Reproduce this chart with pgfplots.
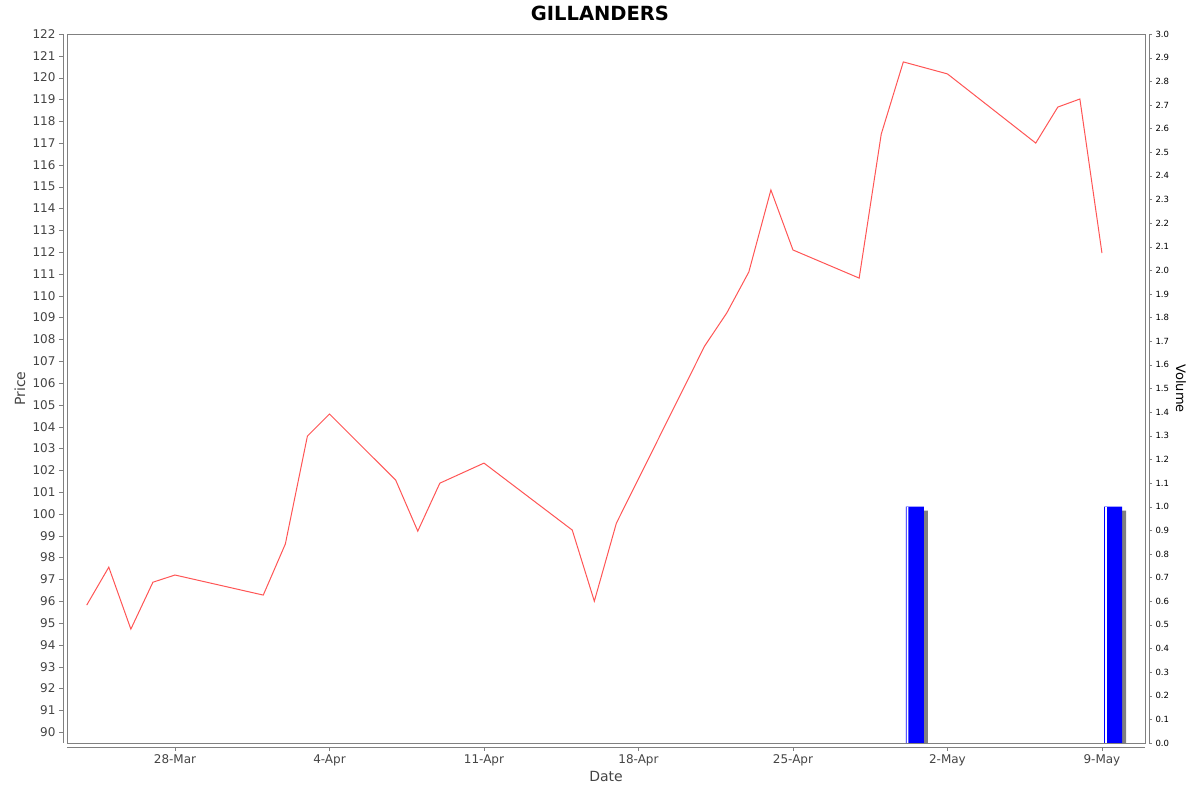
\documentclass[border=0pt]{standalone}
\usepackage{fontspec}
\setmainfont{DejaVu Sans}
\usepackage{pgfplots}
\pgfplotsset{compat=1.18}

\definecolor{pricered}{RGB}{255,85,85}
\definecolor{ticktext}{RGB}{68,68,68}
\definecolor{axisgray}{RGB}{128,128,128}

\begin{document}
\begin{tikzpicture}
\useasboundingbox (0,0) rectangle (1200pt,792pt);
% price axis (left)
\begin{axis}[
    at={(67pt,49pt)}, anchor=south west,
    scale only axis, width=1078pt, height=709pt,
    xmin=-4.893, xmax=43.95,
    ymin=89.5, ymax=122,
    axis x line*=bottom, axis y line*=left,
    axis x line shift=4pt, axis y line shift=4pt,
    axis line style={-, draw=axisgray},
    tick align=outside, major tick length=4pt,
    tick style={axisgray},
    xtick={0,7,14,21,28,35,42},
    xticklabels={28-Mar,4-Apr,11-Apr,18-Apr,25-Apr,2-May,9-May},
    ytick={90,91,...,122},
    tick label style={font=\fontsize{12}{14}\selectfont, text=ticktext},
    /pgf/number format/assume math mode=true,
    clip=false,
    title={GILLANDERS},
    title style={at={(rel axis cs:0.5,1)}, anchor=center, yshift=15pt, xshift=-6pt,
                 font=\fontsize{19.5}{21}\selectfont\bfseries},
    xlabel={Date}, ylabel={Price},
    every axis x label/.style={at={(rel axis cs:0.5,0)}, anchor=center, yshift=-33pt,
                 font=\fontsize{14}{16}\selectfont, text=ticktext},
    every axis y label/.style={at={(rel axis cs:0,0.5)}, anchor=center, xshift=-47pt, rotate=90,
                 font=\fontsize{14}{16}\selectfont, text=ticktext},
]
\draw[axisgray] (rel axis cs:0,0) rectangle (rel axis cs:1,1);
\addplot[pricered, line width=1pt] coordinates {
(-4,95.82) (-3,97.56) (-2,94.72) (-1,96.87) (0,97.20)
(4,96.28) (5,98.62) (6,103.57) (7,104.58)
(10,101.55) (11,99.21) (12,101.41) (14,102.33)
(18,99.26) (19,96.00) (20,99.58)
(24,107.70) (25,109.21) (26,111.09) (27,114.85) (28,112.10)
(31,110.81) (32,117.41) (33,120.72) (35,120.17)
(39,117.00) (40,118.65) (41,119.02) (42,111.96)
};
\end{axis}
% volume axis (right)
\begin{axis}[
    at={(67pt,49pt)}, anchor=south west,
    scale only axis, width=1078pt, height=709pt,
    xmin=-4.893, xmax=43.95,
    ymin=0, ymax=3,
    axis x line=none, axis y line*=right,
    axis y line shift=4pt,
    axis line style={-, draw=axisgray},
    tick align=outside, major tick length=3pt,
    tick style={axisgray},
    ytick={0,0.1,...,3.01},
    yticklabel style={font=\fontsize{8.5}{10}\selectfont, text=black,
                 /pgf/number format/.cd, fixed, fixed zerofill, precision=1},
    /pgf/number format/assume math mode=true,
    ylabel={Volume},
    every axis y label/.style={at={(rel axis cs:1,0.5)}, anchor=center, xshift=36pt, rotate=-90,
                 font=\fontsize{13}{15}\selectfont, text=black},
]
\addplot[ybar, bar width=0.816, bar shift=0pt, fill=axisgray, draw=none] coordinates {(33.70,0.983) (42.69,0.983)};
\addplot[ybar, bar width=0.816, bar shift=0pt, fill=blue, draw=none] coordinates {(33.52,1.0) (42.51,1.0)};
\addplot[ybar, bar width=0.077, bar shift=0pt, fill=white, draw=none] coordinates {(33.19,0.998) (42.18,0.998)};
\end{axis}
\end{tikzpicture}
\end{document}
